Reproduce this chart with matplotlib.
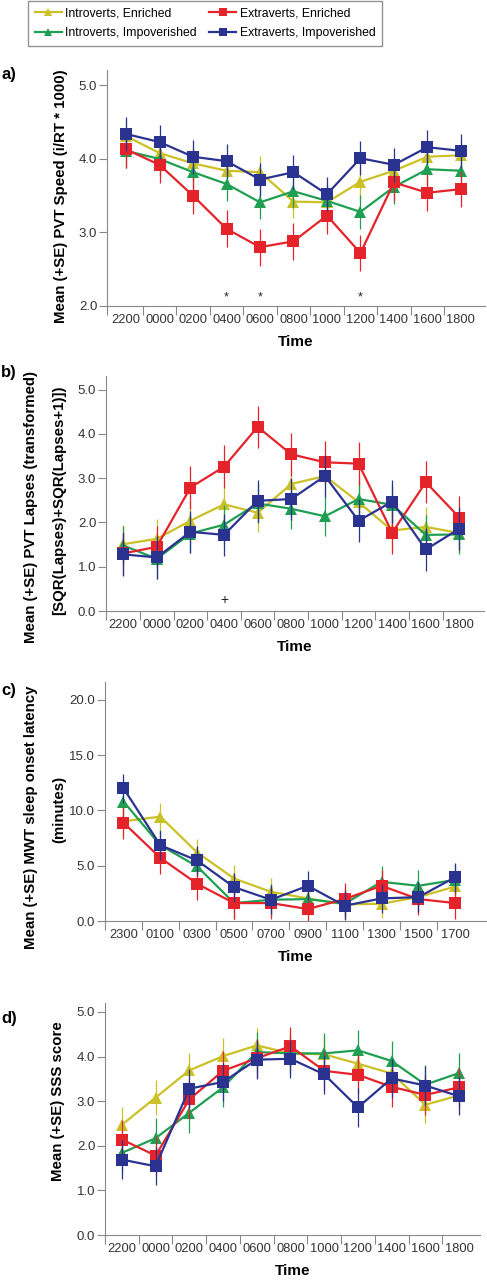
import numpy as np
import matplotlib
matplotlib.use('Agg')
import matplotlib.pyplot as plt

plt.rcParams['font.family'] = ['Liberation Sans', 'DejaVu Sans']

# Time points
times_2h = ['2200', '0000', '0200', '0400', '0600', '0800', '1000', '1200', '1400', '1600', '1800']
times_mwt = ['2300', '0100', '0300', '0500', '0700', '0900', '1100', '1300', '1500', '1700']

# Group names and colours
groups = ['Introverts, Enriched', 'Introverts, Impoverished', 'Extraverts, Enriched', 'Extraverts, Impoverished']
colors = ['#cbc126', '#1f9f52', '#e5232b', '#2b3391']
markers = ['^', '^', 's', 's']

# a) PVT speed
pvt_ie = [4.31, 4.08, 3.94, 3.84, 3.82, 3.42, 3.41, 3.69, 3.84, 4.03, 4.05]
pvt_ii = [4.11, 4.00, 3.82, 3.66, 3.41, 3.56, 3.43, 3.28, 3.62, 3.86, 3.84]
pvt_ee = [4.13, 3.92, 3.50, 3.05, 2.80, 2.88, 3.23, 2.72, 3.68, 3.54, 3.59]
pvt_ei = [4.34, 4.23, 4.03, 3.97, 3.72, 3.82, 3.52, 4.01, 3.92, 4.16, 4.11]
pvt_se = [0.22, 0.23, 0.25, 0.23]

# b) PVT lapses (transformed)
lap_ie = [1.51, 1.63, 2.04, 2.41, 2.22, 2.87, 3.05, 2.46, 1.82, 1.90, 1.76]
lap_ii = [1.48, 1.18, 1.75, 1.95, 2.43, 2.31, 2.14, 2.53, 2.40, 1.72, 1.73]
lap_ee = [1.30, 1.45, 2.79, 3.26, 4.16, 3.54, 3.36, 3.33, 1.77, 2.91, 2.11]
lap_ei = [1.28, 1.21, 1.79, 1.72, 2.49, 2.53, 3.05, 2.04, 2.47, 1.39, 1.86]
lap_se = [0.44, 0.45, 0.48, 0.48]

# c) MWT sleep onset latency
mwt_ie = [9.01, 9.43, 6.19, 3.84, 2.64, 2.04, 1.50, 1.56, 2.16, 3.12]
mwt_ii = [10.8, 6.85, 4.93, 1.62, 1.92, 1.98, 1.56, 3.54, 3.18, 3.72]
mwt_ee = [8.89, 5.71, 3.36, 1.62, 1.62, 1.08, 1.98, 3.18, 1.98, 1.62]
mwt_ei = [12.0, 6.85, 5.47, 3.06, 1.92, 3.18, 1.38, 2.04, 2.16, 3.96]
mwt_se = [1.26, 1.40, 1.45, 1.32]

# d) SSS score
sss_ie = [2.47, 3.08, 3.69, 4.01, 4.25, 4.07, 4.05, 3.84, 3.62, 2.92, 3.13]
sss_ii = [1.84, 2.17, 2.74, 3.31, 4.10, 4.07, 4.07, 4.14, 3.90, 3.37, 3.63]
sss_ee = [2.14, 1.78, 3.04, 3.68, 3.96, 4.23, 3.68, 3.59, 3.32, 3.14, 3.31]
sss_ei = [1.69, 1.54, 3.28, 3.43, 3.93, 3.95, 3.60, 2.86, 3.51, 3.35, 3.11]
sss_se = [0.40, 0.45, 0.44, 0.43]

W, H = 487, 1280
fig = plt.figure(figsize=(W / 100, H / 100), dpi=100)


def px_axes(left, right, top, bottom):
    return fig.add_axes([left / W, 1 - bottom / H, (right - left) / W, (bottom - top) / H])


def draw_panel(ax, labels, series, ses, xlim, ylim, yticks):
    x = np.arange(len(labels))
    # draw order: yellow, green, red, blue
    for k in [0, 1, 2, 3]:
        ax.errorbar(x, series[k], yerr=ses[k], color=colors[k], marker=markers[k],
                    markersize=8, linewidth=1.6, elinewidth=0.9, capsize=3, capthick=0.9,
                    markeredgewidth=0, zorder=3 + k)
    ax.set_xlim(xlim)
    ax.set_ylim(ylim)
    ax.set_xticks(x)
    ax.set_xticklabels(labels)
    bounds = list(np.arange(len(labels) - 1) + 0.5)
    ax.set_xticks([xlim[0]] + bounds, minor=True)
    ax.tick_params(axis='x', which='major', length=0, pad=6, labelsize=9.3, labelcolor='#333333')
    ax.tick_params(axis='x', which='minor', length=6.5, width=0.8, color='#888888')
    ax.set_yticks(yticks)
    ax.set_yticklabels(['%.1f' % v for v in yticks])
    ax.tick_params(axis='y', length=5.5, width=0.8, color='#888888', pad=1.5,
                   labelsize=9.5, labelcolor='#333333')
    for s in ['top', 'right']:
        ax.spines[s].set_visible(False)
    for s in ['left', 'bottom']:
        ax.spines[s].set_color('#888888')
        ax.spines[s].set_linewidth(0.8)
    ax.set_xlabel('Time', fontsize=11, fontweight='bold', labelpad=6)


ax_a = px_axes(107, 485, 70, 306)
draw_panel(ax_a, times_2h, [pvt_ie, pvt_ii, pvt_ee, pvt_ei], pvt_se,
           (-0.57, 10.72), (2.0, 5.21), [2.0, 3.0, 4.0, 5.0])
for i in [3, 4, 7]:
    ax_a.text(i, 2.12, '*', ha='center', va='center', fontsize=9, color='#222222')

ax_b = px_axes(106, 484, 376, 611)
draw_panel(ax_b, times_2h, [lap_ie, lap_ii, lap_ee, lap_ei], lap_se,
           (-0.51, 10.73), (0.0, 5.31), [0.0, 1.0, 2.0, 3.0, 4.0, 5.0])
ax_b.text(3, 0.24, '+', ha='center', va='center', fontsize=10, color='#222222')

ax_c = px_axes(105, 487, 682, 921)
draw_panel(ax_c, times_mwt, [mwt_ie, mwt_ii, mwt_ee, mwt_ei], mwt_se,
           (-0.50, 9.86), (0.0, 21.6), [0.0, 5.0, 10.0, 15.0, 20.0])

ax_d = px_axes(105, 480, 1003, 1235)
draw_panel(ax_d, times_2h, [sss_ie, sss_ii, sss_ee, sss_ei], sss_se,
           (-0.50, 10.62), (0.0, 5.2), [0.0, 1.0, 2.0, 3.0, 4.0, 5.0])

# y axis titles
ylab = dict(rotation=90, ha='center', va='center', fontsize=10.8, fontweight='bold')
fig.text(61 / W, 1 - 196 / H, 'Mean (+SE) PVT Speed (i/RT * 1000)', **ylab)
fig.text(31 / W, 1 - 507 / H, 'Mean (+SE) PVT Lapses (transformed)', **ylab)
fig.text(59 / W, 1 - 500 / H, '[SQR(Lapses)+SQR(Lapses+1)])', **ylab)
fig.text(31 / W, 1 - 817 / H, 'Mean (+SE) MWT sleep onset latency', **ylab)
fig.text(59 / W, 1 - 809 / H, '(minutes)', **ylab)
fig.text(58 / W, 1 - 1101 / H, 'Mean (+SE) SSS score', **ylab)

# panel letters
for lab, yc in [('a)', 75), ('b)', 373), ('c)', 691), ('d)', 1019)]:
    fig.text(1 / W, 1 - yc / H, lab, ha='left', va='center', fontsize=12, fontweight='bold')

# legend
handles = []
for k in range(4):
    h, = plt.plot([], [], color=colors[k], marker=markers[k], markersize=6,
                  linewidth=1.6, markeredgewidth=0)
    handles.append(h)
leg = fig.legend(handles, groups, ncol=2, loc='upper left',
                 bbox_to_anchor=(28 / W, 1 - 1 / H), fontsize=8.8, borderaxespad=0,
                 frameon=True, fancybox=False, handlelength=2.2, handletextpad=0.3,
                 columnspacing=1.0, borderpad=0.55, labelspacing=0.6)
leg.get_frame().set_edgecolor('#777777')
leg.get_frame().set_linewidth(1.0)

fig.savefig('out.png', dpi=100)
